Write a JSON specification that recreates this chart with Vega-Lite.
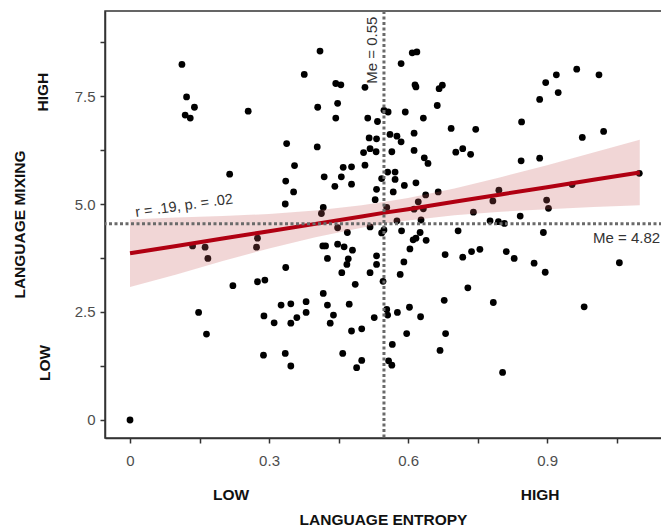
{
  "$schema": "https://vega.github.io/schema/vega-lite/v6.json",
  "width": 557,
  "height": 427,
  "autosize": {"type": "none"},
  "padding": {"left": 105, "top": 11, "right": 0, "bottom": 90},
  "background": "white",
  "config": {
    "view": {"stroke": "#333333", "strokeWidth": 1.5},
    "font": "Liberation Sans",
    "axis": {
      "grid": false,
      "domainColor": "#333333",
      "domainWidth": 1.5,
      "tickColor": "#333333",
      "tickWidth": 1.5,
      "tickSize": 5,
      "labelFont": "Liberation Sans",
      "labelFontSize": 15,
      "labelColor": "#4d4d4d",
      "titleFont": "Liberation Sans",
      "titleFontSize": 15.5,
      "titleFontWeight": "bold",
      "titleColor": "#111111"
    }
  },
  "datasets": {
    "pts": [
      {"x":0.000,"y":0.00},{"x":0.112,"y":8.23},{"x":0.122,"y":7.48},{"x":0.139,"y":7.24},{"x":0.119,"y":7.06},
      {"x":0.130,"y":6.99},{"x":0.215,"y":5.69},{"x":0.255,"y":7.15},{"x":0.410,"y":8.54},{"x":0.376,"y":8.00},
      {"x":0.444,"y":7.79},{"x":0.455,"y":7.76},{"x":0.507,"y":7.70},{"x":0.405,"y":7.24},{"x":0.448,"y":7.33},
      {"x":0.444,"y":6.99},{"x":0.513,"y":6.99},{"x":0.534,"y":6.91},{"x":0.548,"y":7.17},{"x":0.557,"y":7.13},
      {"x":0.338,"y":6.40},{"x":0.404,"y":6.32},{"x":0.516,"y":6.53},{"x":0.532,"y":6.51},{"x":0.504,"y":6.19},
      {"x":0.518,"y":6.28},{"x":0.531,"y":6.21},{"x":0.355,"y":5.89},{"x":0.336,"y":5.53},{"x":0.353,"y":5.28},
      {"x":0.335,"y":5.00},{"x":0.419,"y":5.63},{"x":0.460,"y":5.85},{"x":0.478,"y":5.86},{"x":0.507,"y":5.90},
      {"x":0.456,"y":5.63},{"x":0.442,"y":5.41},{"x":0.478,"y":5.46},{"x":0.543,"y":5.59},{"x":0.532,"y":5.34},
      {"x":0.529,"y":5.10},{"x":0.417,"y":4.92},{"x":0.413,"y":4.78},{"x":0.416,"y":4.03},{"x":0.422,"y":4.03},
      {"x":0.426,"y":3.74},{"x":0.275,"y":4.21},{"x":0.273,"y":4.00},{"x":0.135,"y":4.03},{"x":0.162,"y":4.00},
      {"x":0.168,"y":3.74},{"x":0.222,"y":3.11},{"x":0.148,"y":2.49},{"x":0.165,"y":1.99},{"x":0.448,"y":4.45},
      {"x":0.469,"y":4.34},{"x":0.518,"y":4.47},{"x":0.543,"y":4.33},{"x":0.548,"y":4.40},{"x":0.448,"y":4.07},
      {"x":0.462,"y":4.01},{"x":0.480,"y":3.93},{"x":0.471,"y":3.73},{"x":0.468,"y":3.60},{"x":0.457,"y":3.41},
      {"x":0.532,"y":3.80},{"x":0.532,"y":3.60},{"x":0.518,"y":3.41},{"x":0.546,"y":3.21},{"x":0.486,"y":3.14},
      {"x":0.336,"y":3.53},{"x":0.275,"y":3.20},{"x":0.291,"y":3.24},{"x":0.417,"y":2.93},{"x":0.326,"y":2.66},
      {"x":0.347,"y":2.69},{"x":0.380,"y":2.74},{"x":0.380,"y":2.49},{"x":0.360,"y":2.37},{"x":0.347,"y":2.24},
      {"x":0.311,"y":2.25},{"x":0.289,"y":2.41},{"x":0.426,"y":2.66},{"x":0.439,"y":2.43},{"x":0.432,"y":2.24},
      {"x":0.473,"y":2.68},{"x":0.478,"y":2.06},{"x":0.500,"y":2.11},{"x":0.527,"y":2.37},{"x":0.554,"y":2.56},
      {"x":0.556,"y":2.43},{"x":0.288,"y":1.50},{"x":0.335,"y":1.54},{"x":0.347,"y":1.25},{"x":0.459,"y":1.54},
      {"x":0.500,"y":1.38},{"x":0.489,"y":1.21},{"x":0.609,"y":8.50},{"x":0.619,"y":8.52},{"x":0.585,"y":8.25},
      {"x":0.615,"y":7.76},{"x":0.617,"y":7.71},{"x":0.667,"y":7.67},{"x":0.674,"y":7.75},{"x":0.663,"y":7.28},
      {"x":0.594,"y":7.13},{"x":0.633,"y":6.99},{"x":0.561,"y":6.61},{"x":0.576,"y":6.57},{"x":0.585,"y":6.44},
      {"x":0.613,"y":6.64},{"x":0.565,"y":6.21},{"x":0.613,"y":6.24},{"x":0.635,"y":6.07},{"x":0.643,"y":5.94},
      {"x":0.693,"y":6.75},{"x":0.746,"y":6.73},{"x":0.703,"y":6.20},{"x":0.718,"y":6.28},{"x":0.735,"y":6.15},
      {"x":0.845,"y":6.90},{"x":0.844,"y":6.00},{"x":0.556,"y":5.74},{"x":0.572,"y":5.74},{"x":0.572,"y":5.57},
      {"x":0.568,"y":5.28},{"x":0.592,"y":5.43},{"x":0.617,"y":5.49},{"x":0.638,"y":5.21},{"x":0.665,"y":5.28},
      {"x":0.622,"y":5.05},{"x":0.613,"y":4.88},{"x":0.633,"y":4.89},{"x":0.554,"y":4.92},{"x":0.796,"y":5.32},
      {"x":0.783,"y":5.07},{"x":0.741,"y":4.81},{"x":0.842,"y":4.72},{"x":0.576,"y":4.61},{"x":0.628,"y":4.63},
      {"x":0.777,"y":4.61},{"x":0.795,"y":4.59},{"x":0.808,"y":4.55},{"x":0.884,"y":6.06},{"x":0.884,"y":7.42},
      {"x":0.897,"y":7.81},{"x":0.920,"y":7.99},{"x":0.924,"y":7.58},{"x":0.964,"y":8.12},{"x":1.012,"y":7.99},
      {"x":0.976,"y":6.54},{"x":1.022,"y":6.68},{"x":1.099,"y":5.71},{"x":0.954,"y":5.45},{"x":0.899,"y":5.09},
      {"x":0.903,"y":4.90},{"x":0.892,"y":4.34},{"x":0.708,"y":4.38},{"x":0.680,"y":3.83},{"x":0.718,"y":3.77},
      {"x":0.737,"y":3.90},{"x":0.755,"y":3.95},{"x":0.812,"y":3.90},{"x":0.829,"y":3.74},{"x":0.872,"y":3.63},
      {"x":1.056,"y":3.64},{"x":0.586,"y":4.38},{"x":0.626,"y":4.34},{"x":0.611,"y":4.17},{"x":0.617,"y":4.21},
      {"x":0.639,"y":4.16},{"x":0.604,"y":3.96},{"x":0.591,"y":3.66},{"x":0.583,"y":3.37},{"x":0.729,"y":3.06},
      {"x":0.678,"y":2.77},{"x":0.784,"y":2.72},{"x":0.577,"y":2.49},{"x":0.603,"y":2.61},{"x":0.627,"y":2.39},
      {"x":0.597,"y":2.00},{"x":0.681,"y":2.00},{"x":0.566,"y":1.75},{"x":0.669,"y":1.61},{"x":0.558,"y":1.37},
      {"x":0.565,"y":1.27},{"x":0.804,"y":1.10},{"x":0.980,"y":2.62},{"x":0.896,"y":3.42}
    ],
    "fit": [
      {"x":0.00,"fit":3.86,"lo":3.08,"hi":4.64},
      {"x":0.10,"fit":4.03,"lo":3.37,"hi":4.69},
      {"x":0.20,"fit":4.20,"lo":3.68,"hi":4.72},
      {"x":0.30,"fit":4.37,"lo":3.97,"hi":4.77},
      {"x":0.40,"fit":4.54,"lo":4.23,"hi":4.85},
      {"x":0.50,"fit":4.71,"lo":4.45,"hi":4.97},
      {"x":0.55,"fit":4.80,"lo":4.55,"hi":5.05},
      {"x":0.60,"fit":4.88,"lo":4.62,"hi":5.14},
      {"x":0.70,"fit":5.05,"lo":4.74,"hi":5.36},
      {"x":0.80,"fit":5.22,"lo":4.82,"hi":5.62},
      {"x":0.90,"fit":5.39,"lo":4.88,"hi":5.90},
      {"x":1.00,"fit":5.56,"lo":4.93,"hi":6.19},
      {"x":1.10,"fit":5.73,"lo":4.97,"hi":6.49}
    ],
    "medx": [{"x":0.548}],
    "medy": [{"y":4.54}],
    "rlab": [{"x":0.117,"y":4.95,"label":"r = .19, p. = .02"}],
    "mxlab": [{"x":0.522,"y":8.56,"label":"Me = 0.55"}],
    "mylab": [{"x":1.144,"y":4.21,"label":"Me = 4.82"}],
    "ylh": [{"x":-0.187,"y":7.59,"label":"HIGH"},{"x":-0.183,"y":1.32,"label":"LOW"}],
    "xlh": [{"x":0.218,"y":-1.74,"label":"LOW"},{"x":0.885,"y":-1.74,"label":"HIGH"}]
  },
  "layer": [
    {
      "data": {"name": "pts"},
      "mark": {"type": "point", "filled": true, "color": "#000000", "opacity": 1, "size": 46},
      "encoding": {
        "x": {"field": "x", "type": "quantitative", "scale": {"domain": [-0.054, 1.148], "nice": false, "zero": false},
              "axis": {"values": [0,0.15,0.3,0.45,0.6,0.75,0.9,1.05], "labelExpr": "datum.value == 0 ? '0' : (abs(datum.value/0.3 - round(datum.value/0.3)) < 0.001 ? format(datum.value, '.1f') : '')",
                       "labelPadding": 10, "title": "LANGUAGE ENTROPY", "titleX": 278, "titleY": 81, "titleBaseline": "middle", "titleAnchor": null, "titleAlign": "center"}},
        "y": {"field": "y", "type": "quantitative", "scale": {"domain": [-0.417, 9.468], "nice": false, "zero": false},
              "axis": {"values": [0,1.25,2.5,3.75,5,6.25,7.5,8.75], "labelExpr": "datum.value == 0 ? '0' : (abs(datum.value/2.5 - round(datum.value/2.5)) < 0.001 ? format(datum.value, '.1f') : '')",
                       "labelPadding": 5, "title": "LANGUAGE MIXING", "titleX": -86, "titleY": 213, "titleBaseline": "middle", "titleAlign": "center", "titleAngle": 270}}
      }
    },
    {
      "data": {"name": "fit"},
      "mark": {"type": "area", "color": "#c75b5b", "opacity": 0.25},
      "encoding": {
        "x": {"field": "x", "type": "quantitative", "scale": {"domain": [-0.054, 1.148], "nice": false, "zero": false}},
        "y": {"field": "lo", "type": "quantitative", "scale": {"domain": [-0.417, 9.468], "nice": false, "zero": false}},
        "y2": {"field": "hi"}
      }
    },
    {
      "data": {"name": "fit"},
      "mark": {"type": "line", "color": "#b00012", "strokeWidth": 4},
      "encoding": {
        "x": {"field": "x", "type": "quantitative", "scale": {"domain": [-0.054, 1.148], "nice": false, "zero": false}},
        "y": {"field": "fit", "type": "quantitative", "scale": {"domain": [-0.417, 9.468], "nice": false, "zero": false}}
      }
    },
    {
      "data": {"name": "medx"},
      "mark": {"type": "rule", "color": "#6a6a6a", "strokeWidth": 3, "strokeDash": [3, 2.5]},
      "encoding": {
        "x": {"field": "x", "type": "quantitative", "scale": {"domain": [-0.054, 1.148], "nice": false, "zero": false}}
      }
    },
    {
      "data": {"name": "medy"},
      "mark": {"type": "rule", "color": "#6a6a6a", "strokeWidth": 3, "strokeDash": [3, 2.5]},
      "encoding": {
        "y": {"field": "y", "type": "quantitative", "scale": {"domain": [-0.417, 9.468], "nice": false, "zero": false}}
      }
    },
    {
      "data": {"name": "rlab"},
      "mark": {"type": "text", "fontSize": 14.5, "color": "#333333", "angle": 352, "align": "center", "baseline": "middle", "font": "Liberation Sans"},
      "encoding": {
        "x": {"field": "x", "type": "quantitative", "scale": {"domain": [-0.054, 1.148], "nice": false, "zero": false}},
        "y": {"field": "y", "type": "quantitative", "scale": {"domain": [-0.417, 9.468], "nice": false, "zero": false}},
        "text": {"field": "label"}
      }
    },
    {
      "data": {"name": "mxlab"},
      "mark": {"type": "text", "fontSize": 15, "color": "#333333", "angle": 270, "align": "center", "baseline": "middle", "font": "Liberation Sans"},
      "encoding": {
        "x": {"field": "x", "type": "quantitative", "scale": {"domain": [-0.054, 1.148], "nice": false, "zero": false}},
        "y": {"field": "y", "type": "quantitative", "scale": {"domain": [-0.417, 9.468], "nice": false, "zero": false}},
        "text": {"field": "label"}
      }
    },
    {
      "data": {"name": "mylab"},
      "mark": {"type": "text", "fontSize": 15, "color": "#333333", "align": "right", "baseline": "middle", "font": "Liberation Sans"},
      "encoding": {
        "x": {"field": "x", "type": "quantitative", "scale": {"domain": [-0.054, 1.148], "nice": false, "zero": false}},
        "y": {"field": "y", "type": "quantitative", "scale": {"domain": [-0.417, 9.468], "nice": false, "zero": false}},
        "text": {"field": "label"}
      }
    },
    {
      "data": {"name": "ylh"},
      "mark": {"type": "text", "fontSize": 15.5, "fontWeight": "bold", "color": "#111111", "angle": 270, "align": "center", "baseline": "middle", "font": "Liberation Sans"},
      "encoding": {
        "x": {"field": "x", "type": "quantitative", "scale": {"domain": [-0.054, 1.148], "nice": false, "zero": false}},
        "y": {"field": "y", "type": "quantitative", "scale": {"domain": [-0.417, 9.468], "nice": false, "zero": false}},
        "text": {"field": "label"}
      }
    },
    {
      "data": {"name": "xlh"},
      "mark": {"type": "text", "fontSize": 15.5, "fontWeight": "bold", "color": "#111111", "align": "center", "baseline": "middle", "font": "Liberation Sans"},
      "encoding": {
        "x": {"field": "x", "type": "quantitative", "scale": {"domain": [-0.054, 1.148], "nice": false, "zero": false}},
        "y": {"field": "y", "type": "quantitative", "scale": {"domain": [-0.417, 9.468], "nice": false, "zero": false}},
        "text": {"field": "label"}
      }
    }
  ]
}
